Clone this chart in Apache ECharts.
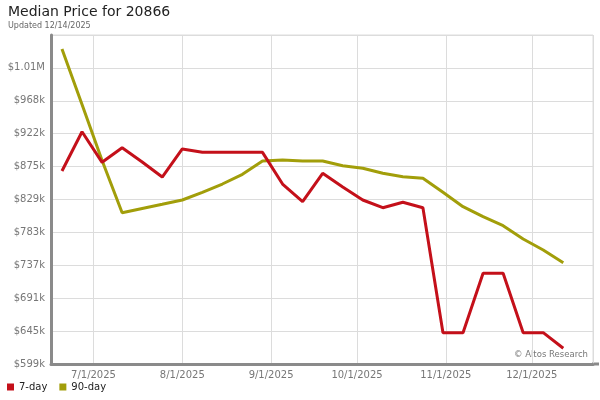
<!DOCTYPE html>
<html>
<head>
<meta charset="utf-8">
<script src="https://cdn.jsdelivr.net/npm/echarts@6/dist/echarts.min.js"></script>
<style>html,body{margin:0;padding:0;background:#fff}#c{width:600px;height:400px}</style>
</head>
<body>
<div id="c"></div>
<script>
var dates = ["2025-06-20","2025-06-27","2025-07-04","2025-07-11","2025-07-18","2025-07-25",
  "2025-08-01","2025-08-08","2025-08-15","2025-08-22","2025-08-29","2025-09-05","2025-09-12",
  "2025-09-19","2025-09-26","2025-10-03","2025-10-10","2025-10-17","2025-10-24","2025-10-31",
  "2025-11-07","2025-11-14","2025-11-21","2025-11-28","2025-12-05","2025-12-12"];
var sevenDay = [869700, 924800, 881900, 902400, 882300, 861300, 900600, 895900, 895900, 895900,
  895900, 851500, 826700, 866500, 847300, 829100, 818300, 825900, 818300, 643200,
  643200, 726400, 726400, 643200, 643200, 621300];
var ninetyDay = [1040700, 962900, 884400, 811300, 817200, 823100, 829100, 839900, 851500, 865100,
  883700, 885100, 883700, 883700, 877200, 873500, 866500, 861700, 859500, 839900,
  819700, 805700, 793100, 774500, 759000, 741200];
var yTickLabels = ["$599k","$645k","$691k","$737k","$783k","$829k","$875k","$922k","$968k","$1.01M",""];
var seriesNames = ["7-day","90-day"];

function toTs(s){ var p = s.split("-"); return new Date(+p[0], +p[1]-1, +p[2], 0, 0, 0).getTime(); }
var yInterval = 46100, yMin = 13 * yInterval, yMax = yMin + 10 * yInterval;

var chart = echarts.init(document.getElementById('c'), null, {renderer:'canvas'});
var font = '"DejaVu Sans", Verdana, sans-serif';
chart.setOption({
  animation: false,
  backgroundColor: '#fff',
  title: {
    text: 'Median Price for 20866',
    subtext: 'Updated 12/14/2025',
    left: 3, top: 0, itemGap: 3,
    textStyle: {fontFamily: font, fontSize: 14, fontWeight: 'normal', color: '#222'},
    subtextStyle: {fontFamily: font, fontSize: 8, color: '#666'}
  },
  legend: {
    left: 2, top: 377, icon: 'rect', itemWidth: 7, itemHeight: 7, itemGap: 12,
    textStyle: {fontFamily: font, fontSize: 10, color: '#222'},
    data: seriesNames
  },
  grid: {left: 51, right: 7, top: 35, bottom: 36, show: true, borderColor: '#dcdcdc', borderWidth: 1},
  xAxis: {
    type: 'time',
    min: new Date(2025, 5, 16, 4).getTime(),
    max: new Date(2025, 11, 22, 9).getTime(),
    minInterval: 28 * 86400000,
    axisLine: {show: true, lineStyle: {color: '#8a8a8a', width: 3}},
    axisTick: {show: false},
    splitLine: {show: true, lineStyle: {color: '#dcdcdc', width: 1}},
    axisLabel: {
      fontFamily: font, fontSize: 10, color: '#777', margin: 6,
      hideOverlap: false,
      formatter: function(v){ var d = new Date(v); return (d.getMonth()+1) + '/' + d.getDate() + '/' + d.getFullYear(); }
    }
  },
  yAxis: {
    type: 'value', min: yMin, max: yMax, interval: yInterval,
    axisLine: {show: true, lineStyle: {color: '#8a8a8a', width: 3}},
    axisTick: {show: false},
    splitLine: {show: true, lineStyle: {color: '#dcdcdc', width: 1}},
    axisLabel: {
      fontFamily: font, fontSize: 10, color: '#777', margin: 6,
      formatter: function(v){ return yTickLabels[Math.round((v - yMin) / yInterval)]; }
    }
  },
  graphic: [{
    type: 'text', right: 12, top: 350,
    style: {text: '\u00A9 Altos Research', fontFamily: font, fontSize: 8.5, fill: '#777'}
  }, {
    type: 'rect', left: 592, top: 362.5, silent: true,
    shape: {width: 7, height: 3}, style: {fill: '#8a8a8a'}
  }],
  series: [
    {name: seriesNames[0], type: 'line', symbol: 'none', color: '#c4101a', z: 3,
     lineStyle: {width: 3, color: '#c4101a'},
     data: dates.map(function(d, i){ return [toTs(d), sevenDay[i]]; })},
    {name: seriesNames[1], type: 'line', symbol: 'none', color: '#a29e0a', z: 2,
     lineStyle: {width: 3, color: '#a29e0a'},
     data: dates.map(function(d, i){ return [toTs(d), ninetyDay[i]]; })}
  ]
});
</script>
</body>
</html>
